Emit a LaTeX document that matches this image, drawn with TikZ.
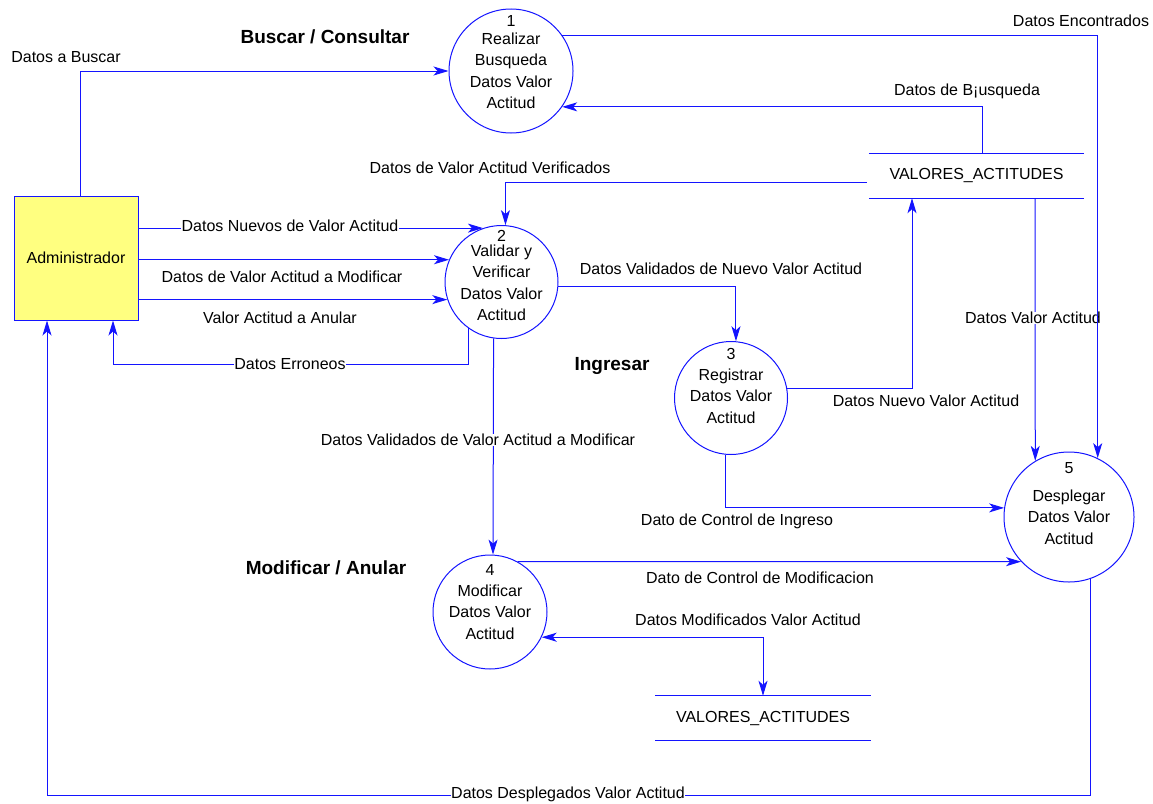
\documentclass[tikz,border=0pt]{standalone}
\usepackage{fontspec}
\setmainfont{Liberation Sans}
\usetikzlibrary{arrows.meta}
\definecolor{flowblue}{RGB}{20,20,255}
\definecolor{entyellow}{RGB}{255,255,128}
\begin{document}
\begin{tikzpicture}[x=1pt,y=-1pt,
  every node/.style={font=\fontsize{16}{21.5}\selectfont, inner sep=1pt},
  proc/.style={circle, draw=flowblue, line width=1pt, inner sep=0pt},
  entity/.style={rectangle, draw=flowblue, fill=entyellow, line width=1pt,
    minimum width=124pt, minimum height=124pt},
  store/.style={rectangle, minimum width=215pt, minimum height=44pt, inner sep=0pt},
  flow/.style={draw=flowblue, line width=1pt,
    -{Stealth[length=15pt,width=9pt,inset=4pt]}},
  biflow/.style={draw=flowblue, line width=1pt,
    {Stealth[length=15pt,width=9pt,inset=4pt]}-{Stealth[length=15pt,width=9pt,inset=4pt]}},
  storeline/.style={draw=flowblue, line width=1pt},
  lbl/.style={fill=none},
  lblon/.style={fill=white, inner sep=0.5pt},
  ptxt/.style={align=center},
  pnum/.style={},
  title/.style={font=\fontsize{19}{22}\selectfont\bfseries}]

\useasboundingbox (0,0) rectangle (1153,803);

% external entity
\node[entity] (admin) at (76,258) {Administrador};

% processes
\node[proc, minimum size=124pt] (c1) at (511,71) {};
\node[proc, minimum size=113pt] (c2) at (501.5,282) {};
\node[proc, minimum size=113pt] (c3) at (731,398) {};
\node[proc, minimum size=114pt] (c4) at (490,612) {};
\node[proc, minimum size=130pt] (c5) at (1069,517) {};

\node[pnum] (n1) at (511,21) {1};
\node[ptxt] (t1) at (511,71) {Realizar\\Busqueda\\Datos Valor\\Actitud};
\node[pnum] (n2) at (501.5,236) {2};
\node[ptxt] (t2) at (501.5,283) {Validar y\\Verificar\\Datos Valor\\Actitud};
\node[pnum] (n3) at (731,354) {3};
\node[ptxt] (t3) at (731,396) {Registrar\\Datos Valor\\Actitud};
\node[pnum] (n4) at (490,570) {4};
\node[ptxt] (t4) at (490,612) {Modificar\\Datos Valor\\Actitud};
\node[pnum] (n5) at (1069,468) {5};
\node[ptxt] (t5) at (1069,517) {Desplegar\\Datos Valor\\Actitud};

% data stores
\node[store] (s1) at (976.5,176) {VALORES\_ACTITUDES};
\draw[storeline] (s1.north west) -- (s1.north east);
\draw[storeline] (s1.south west) -- (s1.south east);
\node[store] (s2) at (763,718) {VALORES\_ACTITUDES};
\draw[storeline] (s2.north west) -- (s2.north east);
\draw[storeline] (s2.south west) -- (s2.south east);

% section titles
\node[title] (h1) at (325,37) {Buscar / Consultar};
\node[title] (h2) at (612,366) {Ingresar};
\node[title] (h3) at (326,568) {Modificar / Anular};

% bend points
\coordinate (kErr) at (113,364);
\coordinate (kDesp) at (47,795);

% data flows
\draw[flow] ([xshift=4pt]admin.north) |- (c1.west);
\draw[flow] ([xshift=5.5pt]s1.north) |- (c1.-35.5);
\draw[flow] ([shift={(-2,6)}]s1.west) -| (c2.86);
\draw[flow] (admin.east |- c2.109) -- (c2.109);
\draw[flow] (admin.east |- c2.157) -- (c2.157);
\draw[flow] (admin.east |- c2.198.6) -- (c2.198.6);
\draw[flow] (c2.-126.4) |- (kErr) -- (kErr |- admin.south);
\draw[flow] (c2.-98.7) -- (c4.87);
\draw[flow] (c2.-5) -| (c3.85);
\draw[flow] (c3.10) -| ([xshift=-64.5pt]s1.south);
\draw[flow] ([xshift=58.5pt]s1.south) -- (c5.121.5);
\draw[flow] (c3.-96) |- (c5.172);
\draw[flow] (c4.61.3) -- (c5.223.8);
\draw[biflow] (c4.-26) -| (s2.north);
\draw[flow] (c5.-71.2) |- (kDesp) -- (kDesp |- admin.south);

% flow labels
\node[lbl] (l1) at (66,57) {Datos a Buscar};
\node[lbl] (l3) at (967,91) {Datos de B¡usqueda};
\node[lbl] (l4) at (490,168) {Datos de Valor Actitud Verificados};
\node[lblon] (l5) at (290,226) {Datos Nuevos de Valor Actitud};
\node[lbl] (l6) at (282,277) {Datos de Valor Actitud a Modificar};
\node[lbl] (l7) at (280,318) {Valor Actitud a Anular};
\node[lblon] (l8) at (290,364) {Datos Erroneos};
\node[lblon] (l9) at (478,440) {Datos Validados de Valor Actitud a Modificar};
\node[lbl] (l10) at (721,269) {Datos Validados de Nuevo Valor Actitud};
\node[lbl] (l11) at (926,401) {Datos Nuevo Valor Actitud};
\node[lblon] (l12) at (1033,318) {Datos Valor Actitud};
\node[lbl] (l13) at (737,521) {Dato de Control de Ingreso};
\node[lbl] (l14) at (760,578) {Dato de Control de Modificacion};
\node[lbl] (l15) at (748,620) {Datos Modificados Valor Actitud};
\node[lblon] (l16) at (568,794) {Datos Desplegados Valor Actitud};

% this flow runs over the label beside it
\draw[flow] (c1.35.5) -| (c5.64.5);
\node[lbl] (l2) at (1081,21) {Datos Encontrados};

\end{tikzpicture}
\end{document}
